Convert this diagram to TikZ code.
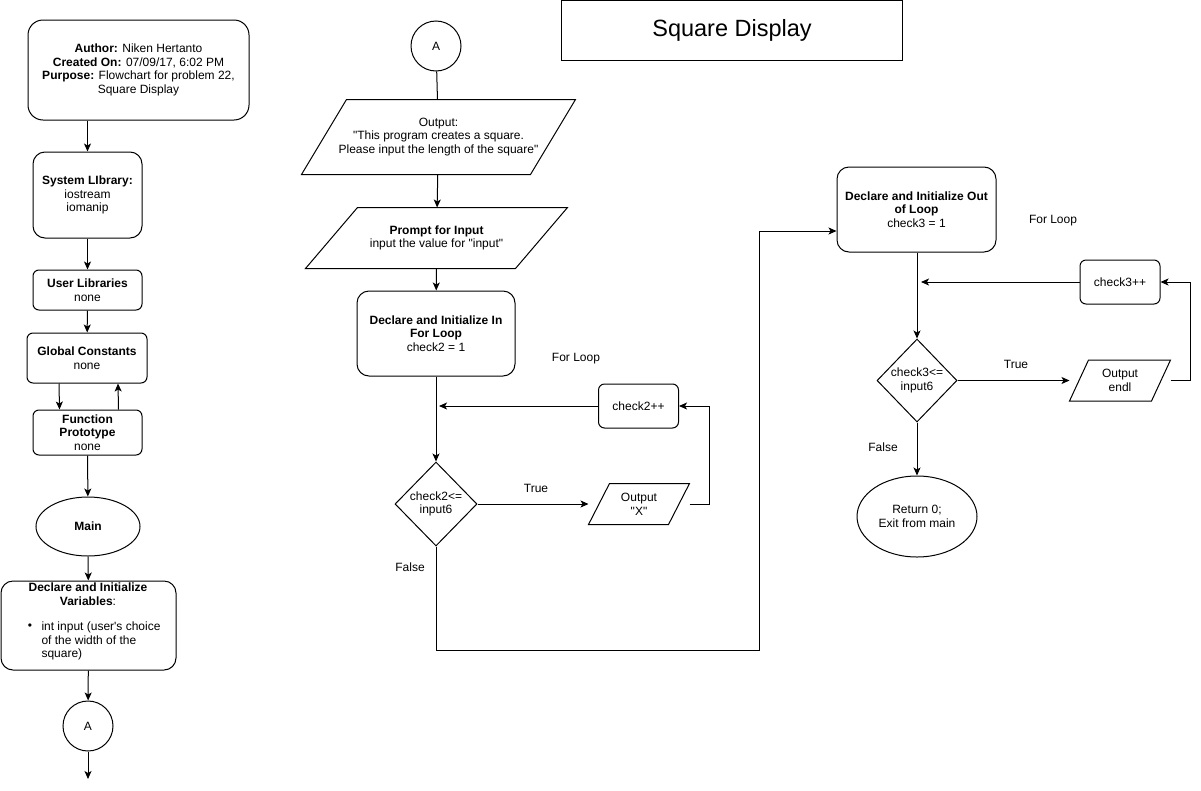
\documentclass[tikz,border=0pt]{standalone}
\usepackage{fontspec}
\setmainfont{Liberation Sans}
\usetikzlibrary{arrows.meta,shapes.geometric}
\newcommand{\iobox}[2]{\draw ([xshift=#2]#1.north west) -- (#1.north east) -- ([xshift=-#2]#1.south east) -- (#1.south west) -- cycle;}

\begin{document}
\begin{tikzpicture}[x=1pt, y=-1pt, line width=1pt, >={Stealth[length=8pt,width=7pt,inset=2pt]},
  every node/.style={font=\fontsize{12}{13.7}\selectfont, inner sep=0pt},
  box/.style={draw, rounded corners=12pt, align=center},
  sbox/.style={draw, rounded corners=6pt, align=center},
  io/.style={align=center},
  dec/.style={draw, diamond, align=center},
  term/.style={draw, ellipse, align=center},
  con/.style={draw, circle, minimum size=50pt}]
\useasboundingbox (0,0) rectangle (1201,790);

\node[box, rounded corners=15pt, minimum width=221pt, minimum height=100pt] (head) at (138.5,70)
  {\textbf{Author:} Niken Hertanto\\\textbf{Created On:} 07/09/17, 6:02 PM\\\textbf{Purpose:} Flowchart for problem 22,\\Square Display};
\node[box, minimum width=109pt, minimum height=86pt] (syslib) at (87.5,195) {\textbf{System LIbrary:}\\iostream\\iomanip};
\node[sbox, minimum width=109pt, minimum height=40pt] (userlib) at (87.5,290) {\textbf{User Libraries}\\none};
\node[sbox, minimum width=120pt, minimum height=50pt] (glob) at (87,358) {\textbf{Global Constants}\\none};
\node[sbox, minimum width=109pt, minimum height=45pt] (func) at (87.5,432.5) {\textbf{Function}\\\textbf{Prototype}\\none};
\node[term, minimum width=104pt, minimum height=59pt] (main) at (88,526.5) {\textbf{Main}};
\node[box, minimum width=175pt, minimum height=89pt] (vars) at (88.5,625.5) {};
\node[align=center] at (88,594) {\textbf{Declare and Initialize}\\\textbf{Variables}:};
\node at (30,627) {\textbullet};
\node[align=left, anchor=west] at (41,641) {int input (user\textquotesingle s choice\\of the width of the\\square)};
\node[con] (conA) at (88,726) {A};
\coordinate (out) at (88,779);

\draw[->] (head.south -| syslib.north) -- (syslib.north);
\draw[->] (syslib) -- (userlib);
\draw[->] (userlib) -- (glob);
\draw[->] ([xshift=-28pt]glob.south) -- ([xshift=-28pt]func.north);
\draw[->] ([xshift=31pt]func.north) -- ([xshift=31pt]glob.south);
\draw[->] (func) -- (main);
\draw[->] (main) -- (vars);
\draw[->] (vars) -- (conA);
\draw[->] (conA) -- (out);

\node[con] (conB) at (436,46) {A};
\node[io, minimum width=273pt, minimum height=74pt] (outmsg) at (438.5,137)
  {Output:\\ \textquotedbl This program creates a square.\\Please input the length of the square\textquotedbl};
\iobox{outmsg}{45pt}
\node[io, minimum width=261pt, minimum height=60pt] (prompt) at (436.5,238)
  {\textbf{Prompt for Input}\\input the value for \textquotedbl input\textquotedbl};
\iobox{prompt}{52pt}
\node[box, minimum width=158pt, minimum height=85pt] (declin) at (436,333.5) {\textbf{Declare and Initialize In}\\\textbf{For Loop}\\check2 = 1};
\node[dec, minimum width=82pt, minimum height=84pt] (dia2) at (436,504) {check2<=\\input6};
\node[sbox, minimum width=80pt, minimum height=44pt] (inc2) at (638.5,406) {check2++};
\node[io, minimum width=100pt, minimum height=40pt] (outx) at (639,504) {Output\\\textquotedbl X\textquotedbl};
\iobox{outx}{21pt}
\node at (576,359) {For Loop};
\node at (536,488) {True};
\node at (410,567) {False};
\coordinate (turn) at (759,650);

\draw (conB) -- (outmsg);
\draw[->] (outmsg) -- (prompt);
\draw[->] (prompt) -- (declin);
\draw[->] (declin) -- (dia2);
\draw[->, shorten >=3pt] (inc2.west) -- (declin.south |- inc2.west);
\draw[->] (dia2.east) -- (outx.west);
\draw[->] (outx.east) -- ++(20,0) |- (inc2.east);

\node[draw, minimum width=341pt, minimum height=60pt, font=\fontsize{23.5}{27}\selectfont] (title) at (732,30) {Square Display};
\node[box, minimum width=159pt, minimum height=85pt] (declout) at (916.5,209.5) {\textbf{Declare and Initialize Out}\\\textbf{of Loop}\\check3 = 1};
\node[sbox, minimum width=80pt, minimum height=44pt] (inc3) at (1120,282) {check3++};
\node[dec, minimum width=80pt, minimum height=83pt] (dia3) at (917,380.5) {check3<=\\input6};
\node[io, minimum width=100pt, minimum height=40pt] (outn) at (1120,380.5) {Output\\endl};
\iobox{outn}{19pt}
\node[term, minimum width=120pt, minimum height=81pt] (ret) at (917,516.5) {Return 0;\\Exit from main};
\node at (1053,221) {For Loop};
\node at (1016,364) {True};
\node at (883,447) {False};

\draw[->] (dia2.south) |- (turn) |- ([yshift=-21.5pt]declout.west);
\draw[->] (declout.south -| dia3.north) -- (dia3.north);
\draw[->, shorten >=4pt] (inc3.west) -- (dia3.north |- inc3.west);
\draw[->] (dia3.east) -- (outn.west);
\draw[->] (outn.east) -- ++(20,0) |- (inc3.east);
\draw[->] (dia3) -- (ret);
\end{tikzpicture}
\end{document}
